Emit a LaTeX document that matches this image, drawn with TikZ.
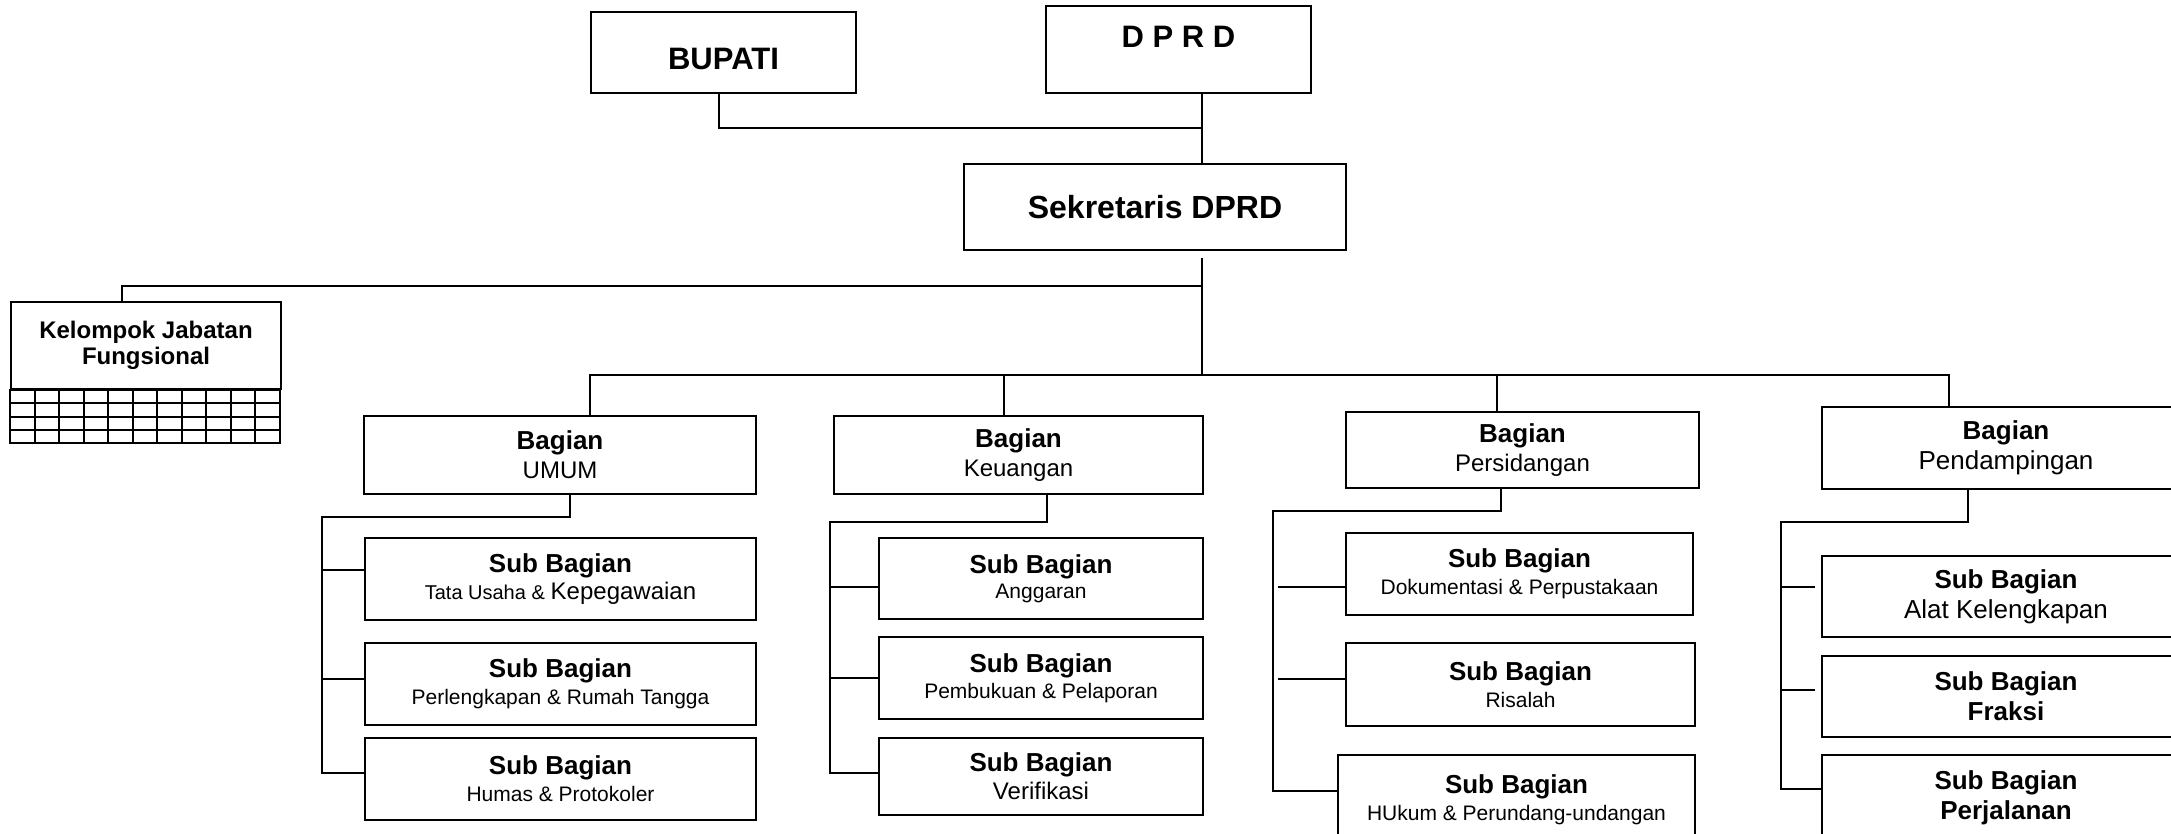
\documentclass[tikz,border=0pt]{standalone}
\usepackage{fontspec}
\setmainfont{Liberation Sans}
\newcommand{\hd}[1]{{\bfseries\fontsize{26}{30}\selectfont #1}}
\newcommand{\setsz}[1]{\fontsize{#1}{27}\selectfont}
\begin{document}
\begin{tikzpicture}[x=1pt, y=-1pt,
  box/.style={draw, line width=2pt, inner sep=0pt, align=center},
  link/.style={line width=2pt},
  headbox/.style={box, font=\bfseries\fontsize{31}{36}\selectfont},
  bag/.style={box, font=\fontsize{24}{29}\selectfont},
  sub/.style={box, font=\fontsize{21}{27}\selectfont},
  umcol/.style={sub, minimum width=391, minimum height=82},
  kucol/.style={sub, minimum width=324},
  dmcol/.style={sub, minimum width=368, minimum height=81, font=\fontsize{26}{30}\selectfont}
]
\useasboundingbox (0,0) rectangle (2171,833);
\clip (0,0) rectangle (2171,833);

% pimpinan
\node[headbox, minimum width=265, minimum height=81, text height=34pt, text depth=0pt] (bupati) at (723.5,52.5) {BUPATI};
\node[headbox, minimum width=265, minimum height=87, text depth=25pt] (dprd) at (1178.5,49.5) {D P R D};
\node[headbox, minimum width=382, minimum height=86, font=\bfseries\fontsize{32}{38}\selectfont] (sekda) at (1155,207) {Sekretaris DPRD};
\coordinate (join) at (1202,128);
\coordinate (knee) at (1202,286);
\coordinate (bus) at (1202,375);

\draw[link] ([xshift=-4.5pt]bupati.south) |- (join);
\draw[link] (dprd.south -| join) -- (sekda.north -| join);
\draw[link] (sekda.south -| join) ++(0,7) -- (bus);

% kelompok jabatan fungsional
\node[box, minimum width=270, minimum height=87, font=\bfseries\fontsize{24}{26}\selectfont] (kjf) at (146,345.5) {Kelompok Jabatan\\Fungsional};
\draw[link] (kjf.south west) rectangle ++(270,53);
\foreach \r in {1,2,3}
  \draw[link] (kjf.south west) ++(0,\r*13.25) -- ++(270,0);
\foreach \c in {1,...,10}
  \draw[link] (kjf.south west) ++(\c*24.545,0) -- ++(0,53);
\draw[link] (knee) -| ([xshift=-24pt]kjf.north);

% bagian
\node[bag, minimum width=392, minimum height=78] (umum) at (560,455) {\hd{Bagian}\\UMUM};
\node[bag, minimum width=369, minimum height=78] (keu) at (1018.5,455) {\hd{Bagian}\\Keuangan};
\node[bag, minimum width=353, minimum height=76] (sidang) at (1522.5,450) {\hd{Bagian}\\Persidangan};
\node[bag, minimum width=368, minimum height=82, font=\fontsize{26}{30}\selectfont] (damp) at (2006,448) {\hd{Bagian}\\Pendampingan};

\draw[link] ([xshift=30pt]umum.north) |- (bus) -| ([xshift=-57pt]damp.north);
\draw[link] ([xshift=-14.5pt]keu.north) |- (bus);
\draw[link] ([xshift=-25.5pt]sidang.north) |- (bus);

% sub bagian umum
\node[umcol] (sbtu) at (560.5,579) {\hd{Sub Bagian}\\{\setsz{20}Tata Usaha \&} {\setsz{24}Kepegawaian}};
\node[umcol] (sbprt) at (560.5,684) {\hd{Sub Bagian}\\Perlengkapan \& Rumah Tangga};
\node[umcol] (sbhp) at (560.5,779) {\hd{Sub Bagian}\\Humas \& Protokoler};
\coordinate (umspine) at (322,517);
\draw[link] ([xshift=10pt]umum.south) |- (umspine) |- ([yshift=6pt]sbhp.west);
\draw[link] ([yshift=9pt]sbtu.west) -- ++(-43,0);
\draw[link] ([yshift=5pt]sbprt.west) -- ++(-43,0);

% sub bagian keuangan
\node[kucol, minimum height=81, font=\fontsize{21}{25}\selectfont] (sbang) at (1041,578.5) {\hd{Sub Bagian}\\Anggaran};
\node[kucol, minimum height=82, font=\fontsize{21}{26}\selectfont] (sbpp) at (1041,678) {\hd{Sub Bagian}\\Pembukuan \& Pelaporan};
\node[kucol, minimum height=77, font=\fontsize{24}{28}\selectfont] (sbver) at (1041,776.5) {\hd{Sub Bagian}\\Verifikasi};
\coordinate (kuspine) at (830,522);
\draw[link] ([xshift=28.5pt]keu.south) |- (kuspine) |- ([yshift=3.5pt]sbver.west);
\draw[link] ([yshift=-8.5pt]sbang.west) -- ++(-49,0);
\draw[link] (sbpp.west) -- ++(-49,0);

% sub bagian persidangan
\node[sub, minimum width=347, minimum height=82] (sbdok) at (1519.5,574) {\hd{Sub Bagian}\\Dokumentasi \& Perpustakaan};
\node[sub, minimum width=349, minimum height=83] (sbris) at (1520.5,684.5) {\hd{Sub Bagian}\\Risalah};
\node[sub, minimum width=357, minimum height=90] (sbhuk) at (1516.5,800) {\hd{Sub Bagian}\\HUkum \& Perundang-undangan};
\coordinate (sispine) at (1273,511);
\draw[link] ([xshift=-21.5pt]sidang.south) |- (sispine) |- ([yshift=9pt]sbhuk.west);
\draw[link] ([yshift=-13pt]sbdok.west) -- ++(-67,0);
\draw[link] ([yshift=5.5pt]sbris.west) -- ++(-67,0);

% sub bagian pendampingan
\node[dmcol] (sbalat) at (2006,596.5) {\hd{Sub Bagian}\\Alat Kelengkapan};
\node[dmcol] (sbfrak) at (2006,696.5) {\hd{Sub Bagian}\\\hd{Fraksi}};
\node[dmcol, minimum height=85] (sbjalan) at (2006,797.5) {\hd{Sub Bagian}\\\hd{Perjalanan}};
\coordinate (dmspine) at (1781,522);
\draw[link] ([xshift=-38pt]damp.south) |- (dmspine) |- ([yshift=8.5pt]sbjalan.west);
\draw[link] ([xshift=-6pt,yshift=9.5pt]sbalat.west) -- ++(-35,0);
\draw[link] ([xshift=-6pt,yshift=6.5pt]sbfrak.west) -- ++(-35,0);
\end{tikzpicture}
\end{document}
